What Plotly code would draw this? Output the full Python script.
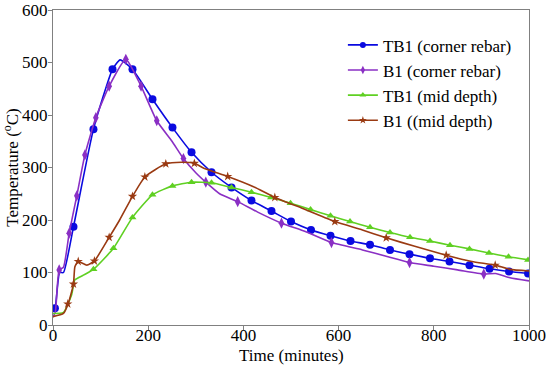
import plotly.graph_objects as go

# ---- data ----
tb1_corner_x = [0, 5, 14, 22, 43, 85, 125, 141, 167, 209, 251, 291, 333, 375, 417, 459, 500, 542, 583, 625, 666, 708, 749, 792, 833, 875, 917, 958, 1000]
tb1_corner_y = [25, 35, 100, 100, 187, 373, 487, 505, 487, 430, 376, 329, 291, 262, 237, 217, 197, 181, 170, 160, 153, 143, 135, 127, 121, 114, 107, 102, 98]
tb1_corner_mx = [4, 43, 85, 125, 167, 209, 251, 291, 333, 375, 417, 459, 500, 542, 583, 625, 666, 708, 749, 792, 833, 875, 917, 958, 998]
tb1_corner_my = [32, 187, 373, 487, 487, 430, 376, 329, 291, 262, 237, 217, 197, 181, 170, 160, 153, 143, 135, 127, 121, 114, 107, 102, 98]

b1_corner_x = [0, 5, 13, 22, 34, 50, 67, 90, 118, 153, 185, 218, 250, 274, 300, 321, 350, 388, 430, 480, 530, 585, 650, 700, 749, 800, 850, 905, 930, 960, 1000]
b1_corner_y = [15, 25, 105, 110, 175, 246, 324, 395, 455, 506, 455, 389, 350, 317, 290, 272, 250, 235, 215, 194, 178, 157, 143, 131, 119, 112, 105, 97, 98, 90, 84]
b1_corner_mx = [13, 34, 50, 67, 90, 118, 153, 185, 218, 274, 321, 388, 480, 585, 749, 905]
b1_corner_my = [105, 175, 246, 324, 395, 455, 506, 455, 389, 317, 272, 235, 194, 157, 119, 97]

tb1_mid_x = [0, 22, 39, 46, 64, 85, 127, 167, 209, 251, 291, 333, 375, 417, 458, 499, 541, 583, 624, 666, 708, 750, 792, 834, 875, 916, 957, 1000]
tb1_mid_y = [22, 24, 57, 86, 95, 106, 146, 205, 248, 265, 272, 271, 262, 253, 243, 232, 220, 208, 197, 186, 176, 167, 160, 152, 145, 137, 130, 124]
tb1_mid_mx = [85, 127, 167, 209, 251, 291, 333, 375, 417, 458, 499, 541, 583, 624, 666, 708, 750, 792, 834, 875, 916, 957, 998]
tb1_mid_my = [106, 146, 205, 248, 265, 272, 271, 262, 253, 243, 232, 220, 208, 197, 186, 176, 167, 160, 152, 145, 137, 130, 124]

b1_mid_x = [0, 22, 32, 43, 46, 53, 71, 87, 118, 140, 167, 193, 237, 270, 297, 318, 367, 420, 466, 530, 592, 650, 700, 760, 826, 880, 929, 960, 1000]
b1_mid_y = [16, 22, 41, 78, 111, 121, 114, 122, 167, 200, 245, 282, 307, 310, 308, 298, 283, 264, 243, 220, 197, 181, 166, 150, 133, 121, 114, 106, 103]
b1_mid_mx = [31, 43, 53, 87, 118, 167, 193, 237, 297, 367, 466, 592, 700, 826, 929]
b1_mid_my = [40, 78, 121, 122, 167, 245, 282, 307, 308, 283, 243, 197, 166, 133, 114]

x_ticks = [0, 200, 400, 600, 800, 1000]
y_ticks = [0, 100, 200, 300, 400, 500, 600]
x_title = "Time (minutes)"
y_title = "Temperature (<sup>o</sup>C)"

series = [
    ("TB1 (corner rebar)", tb1_corner_x, tb1_corner_y, tb1_corner_mx, tb1_corner_my, "#0a0ae0", "circle", 8),
    ("B1 (corner rebar)", b1_corner_x, b1_corner_y, b1_corner_mx, b1_corner_my, "#8a2fc4", "diamond-tall", 8),
    ("TB1 (mid depth)", tb1_mid_x, tb1_mid_y, tb1_mid_mx, tb1_mid_my, "#5fd022", "triangle-up", 7),
    ("B1 ((mid depth)", b1_mid_x, b1_mid_y, b1_mid_mx, b1_mid_my, "#9a3a12", "star", 7),
]

fig = go.Figure()
for name, lx, ly, mx, my, col, sym, sz in series:
    fig.add_trace(go.Scatter(x=lx, y=ly, mode="lines", line=dict(color=col, width=1.6, shape="spline", smoothing=0.5),
                             showlegend=False, hoverinfo="skip"))
    fig.add_trace(go.Scatter(x=mx, y=my, mode="markers", marker=dict(color=col, symbol=sym, size=sz, line=dict(width=0)),
                             showlegend=False))
for i, (name, lx, ly, mx, my, col, sym, sz) in enumerate(series):
    fig.add_trace(go.Scatter(x=[None], y=[None], mode="lines+markers", name=name, legendgroup="g%d" % i,
                             line=dict(color=col, width=1.6), marker=dict(color=col, symbol=sym, size=6)))

font = "Liberation Serif"
axis_common = dict(showline=True, linecolor="#808080", linewidth=1.2, mirror=True, ticks="outside",
                   ticklen=4, tickcolor="#808080", showgrid=False, zeroline=False, automargin=False,
                   tickfont=dict(family=font, size=17, color="black"))
fig.update_layout(
    width=550, height=369,
    margin=dict(l=53, r=21, t=10, b=44),
    paper_bgcolor="white", plot_bgcolor="white",
    font=dict(family=font, size=17, color="black"),
    xaxis=dict(range=[0, 1000], tickvals=x_ticks, ticklabelstandoff=-10, **axis_common),
    yaxis=dict(range=[0, 600], tickvals=y_ticks, ticklabelstandoff=-3,
               title=dict(text=y_title, font=dict(family=font, size=17)), **axis_common),
    legend=dict(x=0.609, y=0.945, xanchor="left", yanchor="top", bgcolor="rgba(0,0,0,0)",
                font=dict(family=font, size=17), tracegroupgap=0),
)
fig.add_annotation(text=x_title, xref="paper", yref="paper", x=0.5, y=-0.096, xanchor="center", yanchor="middle",
                   showarrow=False, font=dict(family=font, size=17, color="black"))
fig.write_html("out.html", post_script="document.body.style.margin='0';", config={"displayModeBar": False})
